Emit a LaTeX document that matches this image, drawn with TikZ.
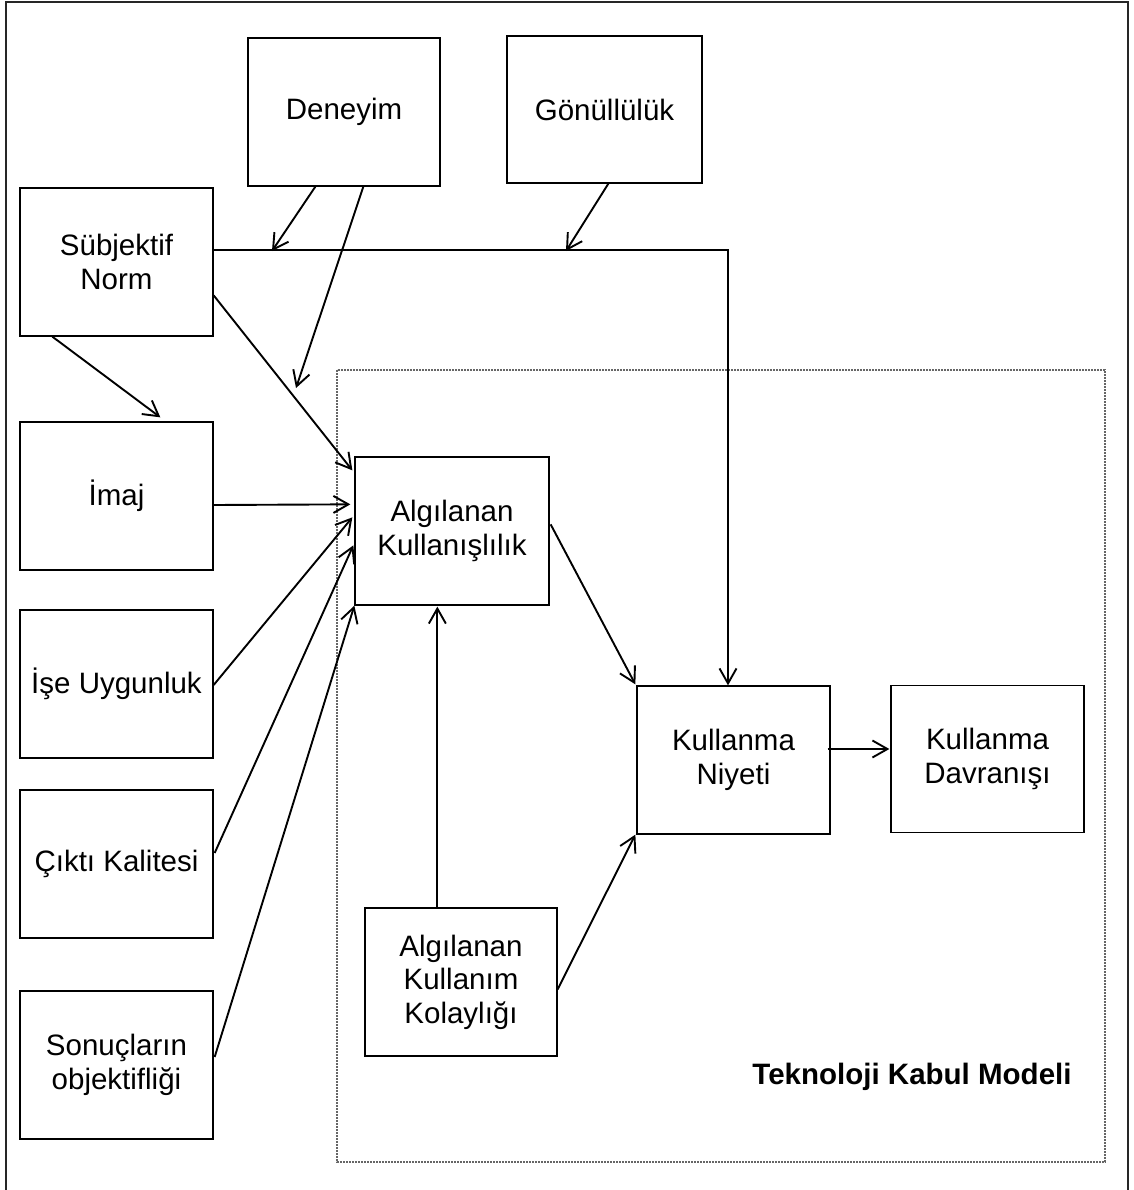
\documentclass[tikz,border=0pt]{standalone}
\usepackage{fontspec}
\setmainfont{Liberation Sans}
\usetikzlibrary{arrows.meta,calc}

\begin{document}
\begin{tikzpicture}[x=1pt,y=-1pt,
  box/.style={draw=black,line width=1.3pt,rectangle,minimum width=193pt,minimum height=148pt,
              align=center,inner sep=0pt,font=\fontsize{29.5}{33.5}\selectfont},
  arr/.style={line width=1.9pt,-{Straight Barb[length=15pt,width=17pt,line width=1.9pt]}}]
\useasboundingbox (0,0) rectangle (1133,1190);

% outer frame (open at the bottom)
\draw[line width=1.8pt,black!85] (6,1190) -- (6,2) -- (1128,2) -- (1128,1190);

% dotted frame of the acceptance model
\draw[gray!80!black,line width=1.3pt,dash pattern=on 2pt off 1pt] (337,370) rectangle (1105,1162);
\node[font=\fontsize{29.5}{33.5}\selectfont\bfseries] (title) at (912,1077) {Teknoloji Kabul Modeli};

% boxes
\node[box,minimum width=192pt] (den) at (344,112) {Deneyim};
\node[box,minimum width=195pt,minimum height=147pt] (gon) at (604.5,109.5) {Gönüllülük};
\node[box] (subj) at (116.5,262) {Sübjektif\\Norm};
\node[box] (imaj) at (116.5,496) {İmaj};
\node[box] (ise) at (116.5,684) {İşe Uygunluk};
\node[box] (cikti) at (116.5,864) {Çıktı Kalitesi};
\node[box] (sonuc) at (116.5,1065) {Sonuçların\\objektifliği};
\node[box,minimum width=194pt] (ak) at (452,531) {Algılanan\\Kullanışlılık};
\node[box,minimum width=192pt] (akk) at (461,982) {Algılanan\\Kullanım\\Kolaylığı};
\node[box] (kn) at (733.5,760) {Kullanma\\Niyeti};
\node[box,minimum height=147pt] (kd) at (987.5,759) {Kullanma\\Davranışı};

% subjective norm line running to the intention box
\coordinate (sline) at ($(subj.north east)+(0,63)$);
\coordinate (turn) at ($(kn.north)+(-5.5,0)$);
\draw[arr] (sline) -- (turn |- sline) -- (turn);
\coordinate (denhit) at (272,251);
\coordinate (gonhit) at (566,251);
\coordinate (denmid) at (296,388);
\draw[arr] ($(den.south west)+(68,0)$) -- (denhit);
\draw[arr] ($(den.south west)+(116,0)$) -- (denmid);
\draw[arr] ($(gon.south west)+(102,0)$) -- (gonhit);

% determinants of perceived usefulness
\draw[arr] ($(subj.north east)+(0,108)$) -- ($(ak.north west)+(-2,14)$);
\draw[arr] ($(subj.south west)+(33,0)$) -- ($(imaj.north west)+(141,-4)$);
\draw[arr] ($(imaj.east)+(0,9)$) -- ($(ak.north west)+(-4,48)$);
\draw[arr] ($(ise.east)+(0,1)$) -- ($(ak.north west)+(-2,61)$);
\draw[arr] ($(cikti.east)+(1,-11)$) -- ($(ak.north west)+(-1,89)$);
\draw[arr] ($(sonuc.east)+(1,-8)$) -- (ak.south west);

% model core
\draw[arr] ($(akk.north west)+(73,0)$) -- ($(ak.south west)+(83,1)$);
\draw[arr] ($(ak.north east)+(1,68)$) -- ($(kn.north west)+(-1,-1)$);
\draw[arr] ($(akk.north east)+(0,82)$) -- ($(kn.south west)+(-1,0)$);
\draw[arr] ($(kn.east)+(-3,-11)$) -- ($(kd.west)+(-1,-10)$);
\end{tikzpicture}
\end{document}
